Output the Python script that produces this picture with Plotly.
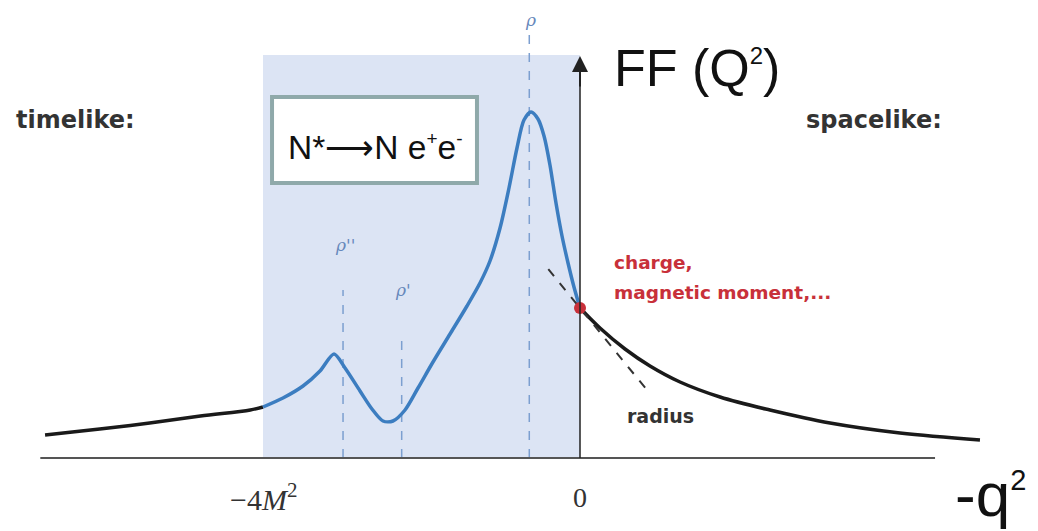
import plotly.graph_objects as go

# Form factor vs -q^2 (units: -4M^2 = -4)
timelike_x = [-6.75, -6.06, -5.43, -4.79, -4.16, -4.0]
timelike_y = [0.23, 0.29, 0.35, 0.42, 0.48, 0.51]

vdm_x = [-4.000, -3.748, -3.495, -3.281, -3.104, -2.965, -2.776, -2.625, -2.486, -2.360,
         -2.208, -2.044, -1.855, -1.640, -1.426, -1.262, -1.136, -1.009, -0.896, -0.795,
         -0.707, -0.618, -0.530, -0.454, -0.379, -0.303, -0.227, -0.151, -0.076, 0.0]
vdm_y = [0.51, 0.60, 0.72, 0.87, 1.04, 0.90, 0.67, 0.49, 0.37, 0.37,
         0.48, 0.70, 0.96, 1.24, 1.52, 1.75, 1.97, 2.30, 2.70, 3.10,
         3.38, 3.46, 3.39, 3.22, 2.93, 2.55, 2.22, 1.95, 1.71, 1.50]

spacelike_x = [0.0, 0.252, 0.568, 0.883, 1.262, 1.767, 2.397, 3.155, 4.038, 5.047]
spacelike_y = [1.50, 1.30, 1.09, 0.92, 0.76, 0.61, 0.48, 0.35, 0.25, 0.18]

# real-photon point and slope (radius)
ff0 = 1.50
slope = -0.97
tangent_x = [-0.40, 0.88]

# vector-meson poles
res_names = ["ρ''", "ρ'", "ρ"]
res_x = [-2.99, -2.25, -0.64]
res_top = [1.68, 1.23, 4.23]

BLUE = "#3c7dc0"
fig = go.Figure()

fig.add_shape(type="rect", x0=-4, x1=0, y0=0, y1=4.03, fillcolor="#dce4f4",
              line_width=0, layer="below")
for x, top in zip(res_x, res_top):
    fig.add_shape(type="line", x0=x, x1=x, y0=0, y1=top,
                  line=dict(color="#7c9fd0", width=1.5, dash="dash"), layer="below")
fig.add_shape(type="line", x0=-6.81, x1=4.48, y0=0, y1=0,
              line=dict(color="#555555", width=2))
fig.add_shape(type="line", x0=0, x1=0, y0=0, y1=3.85,
              line=dict(color="#222222", width=1.5))

fig.add_trace(go.Scatter(x=timelike_x, y=timelike_y, mode="lines",
                         line=dict(color="#1a1a1a", width=3.5, shape="spline")))
fig.add_trace(go.Scatter(x=vdm_x, y=vdm_y, mode="lines",
                         line=dict(color=BLUE, width=3.5, shape="spline", smoothing=0.8)))
fig.add_trace(go.Scatter(x=spacelike_x, y=spacelike_y, mode="lines",
                         line=dict(color="#1a1a1a", width=3.5, shape="spline")))
fig.add_trace(go.Scatter(x=tangent_x, y=[ff0 + slope * t for t in tangent_x], mode="lines",
                         line=dict(color="#333333", width=2, dash="dash")))
fig.add_trace(go.Scatter(x=[0], y=[ff0], mode="markers",
                         marker=dict(color="#c8303a", size=12)))

# arrow head of the FF axis
fig.add_annotation(x=0, y=4.02, ax=0, ay=3.7, xref="x", yref="y", axref="x", ayref="y",
                   text="", showarrow=True, arrowhead=2, arrowsize=1.6, arrowwidth=2,
                   arrowcolor="#222222")

# labelled box
fig.add_shape(type="rect", x0=-3.886, x1=-1.30, y0=2.75, y1=3.61, fillcolor="white",
              line=dict(color="#8fa9aa", width=4))

def txt(x, y, s, size, color="#222222", family="Liberation Sans", xanchor="left",
        yanchor="middle", bold=False):
    fig.add_annotation(x=x, y=y, text=f"<b>{s}</b>" if bold else s, showarrow=False,
                       xanchor=xanchor, yanchor=yanchor,
                       font=dict(size=size, color=color, family=family))

def small(s, px):
    return f"<sup><span style='font-size:{px}px'>{s}</span></sup>"

txt(-2.59, 3.11, "N*⟶N e" + small("+", 19) + "e" + small("-", 19), 33.5, "#111111",
    xanchor="center")
txt(0.40, 3.90, "FF (Q" + small("2", 24) + ")", 52, "#111111")
txt(5.65, -0.725, "-q" + small("2", 29), 62, "#111111", xanchor="right", yanchor="bottom")
txt(-7.14, 3.38, "timelike:", 24, "#333333", family="DejaVu Sans", bold=True)
txt(2.83, 3.38, "spacelike:", 24, "#333333", family="DejaVu Sans", bold=True)
txt(0.40, 1.96, "charge,", 18.5, "#c8303a", family="DejaVu Sans", bold=True)
txt(0.40, 1.66, "magnetic moment,...", 18.5, "#c8303a", family="DejaVu Sans", bold=True)
txt(0.57, 0.42, "radius", 19, "#333333", family="DejaVu Sans", bold=True)
txt(-4.0, -0.39, "−4<i>M</i><sup>2</sup>", 30, "#333333", family="Liberation Serif", xanchor="center")
txt(0.0, -0.39, "0", 28, "#333333", family="Liberation Serif", xanchor="center")
for name, x, top in zip(res_names, res_x, res_top):
    txt(x + 0.02, top + 0.45 if name != "ρ" else 4.38, f"<i>{name}</i>", 17, "#6688bb",
        family="DejaVu Serif", xanchor="center")

fig.update_layout(
    width=1038, height=531, margin=dict(l=0, r=0, t=0, b=0),
    paper_bgcolor="white", plot_bgcolor="white", showlegend=False,
    xaxis=dict(range=[-7.3186, 5.7792], visible=False, fixedrange=True),
    yaxis=dict(range=[-0.73, 4.58], visible=False, fixedrange=True),
)
fig.write_html("out.html")
